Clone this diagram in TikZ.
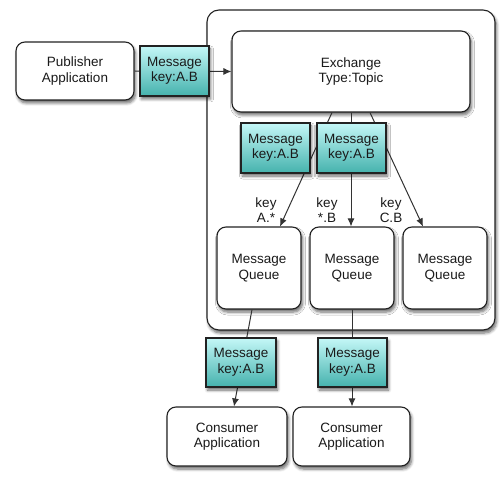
\documentclass[tikz,border=0pt]{standalone}
\usepackage{fontspec}
\setmainfont{Liberation Sans}
\usetikzlibrary{arrows.meta,shadows.blur}
\definecolor{boxline}{HTML}{222222}
\definecolor{conn}{HTML}{333333}
\definecolor{msgtop}{HTML}{C4F7F7}
\definecolor{msgbot}{HTML}{45B2AD}
\definecolor{txt}{HTML}{1A1A1A}
\tikzset{
  shad/.style={blur shadow={shadow xshift=1.5pt, shadow yshift=-3pt, shadow blur steps=6, shadow blur radius=3pt, shadow opacity=60}},
  whitebox/.style={draw=boxline, line width=1.1pt, fill=white, rounded corners=9pt, align=center, text=txt, inner sep=0pt, shad},
  msgbox/.style={draw=boxline, line width=1.1pt, top color=msgtop, bottom color=msgbot, align=center, text=txt, inner sep=0pt, minimum width=69pt, minimum height=50pt, shad},
  conn/.style={draw=conn, line width=1pt},
  arr/.style={conn, -{Latex[length=8pt,width=7pt]}},
  keylab/.style={align=center, text=txt, inner sep=0pt},
}
\begin{document}
\begin{tikzpicture}[x=1pt,y=-1pt, font=\fontsize{13.5}{15.5}\selectfont]
\useasboundingbox (0,0) rectangle (501,478);
% outer container
\node[whitebox, rounded corners=12pt, minimum width=288pt, minimum height=320pt] (broker) at (351,170) {};
% white boxes
\node[whitebox, minimum width=238pt, minimum height=81pt] (ex) at (351,71.5) {Exchange\\Type:Topic};
\node[whitebox, minimum width=118pt, minimum height=58pt] (pub) at (75,71) {Publisher\\Application};
\node[whitebox, minimum width=84pt, minimum height=82pt] (q1) at (259,268) {Message\\Queue};
\node[whitebox, minimum width=84pt, minimum height=82pt] (q2) at (352,268) {Message\\Queue};
\node[whitebox, minimum width=84pt, minimum height=82pt] (q3) at (445,268) {Message\\Queue};
\node[whitebox, minimum width=120pt, minimum height=59pt] (c1) at (227,436.5) {Consumer\\Application};
\node[whitebox, minimum width=117pt, minimum height=59pt] (c2) at (351.5,436.5) {Consumer\\Application};
% connectors
\draw[arr] (pub.east) -- (ex.west);
\draw[arr] ([xshift=-19pt]ex.south) -- ([xshift=21pt]q1.north);
\draw[arr] (ex.south) -- (ex.south |- q2.north);
\draw[arr] ([xshift=19pt]ex.south) -- ([xshift=-22pt]q3.north);
\draw[arr] ([xshift=-7pt]q1.south) -- ([xshift=7pt]c1.north);
\draw[arr] (q2.south) -- (q2.south |- c2.north);
% key labels
\node[keylab] (k1) at (266,210) {key\\A.*};
\node[keylab] (k2) at (327,210) {key\\*.B};
\node[keylab] (k3) at (391,210) {key\\C.B};
% message boxes
\node[msgbox] (m1) at (174.5,71) {Message\\key:A.B};
\node[msgbox] (m2) at (275.5,148) {Message\\key:A.B};
\node[msgbox] (m3) at (351.5,148) {Message\\key:A.B};
\node[msgbox, minimum width=70pt, minimum height=49pt] (m4) at (241,362.5) {Message\\key:A.B};
\node[msgbox, minimum height=49pt] (m5) at (352.5,362.5) {Message\\key:A.B};
\end{tikzpicture}
\end{document}
